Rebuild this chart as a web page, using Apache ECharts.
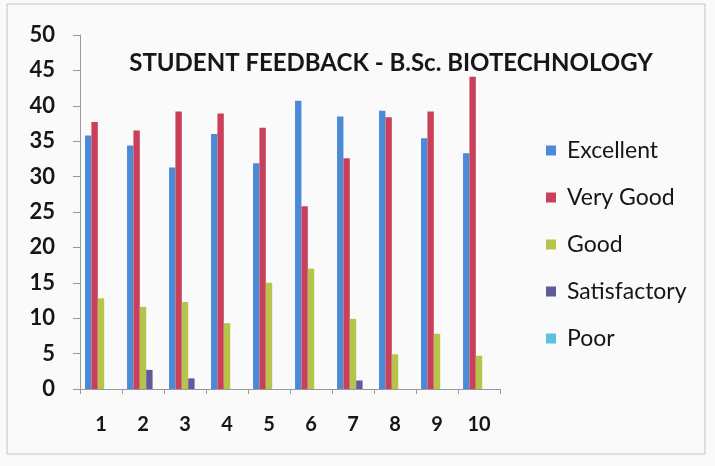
<!DOCTYPE html>
<html>
<head>
<meta charset="utf-8">
<script src="https://cdn.jsdelivr.net/npm/echarts@6/dist/echarts.min.js"></script>
<style>
  html, body { margin: 0; padding: 0; background: #fafafa; }
  #chart { width: 715px; height: 466px; }
</style>
</head>
<body>
<div id="chart"></div>
<script>
// Feedback counts per batch, one array per rating
const categories = ['1', '2', '3', '4', '5', '6', '7', '8', '9', '10'];
const excellent = [35.8, 34.4, 31.3, 36.0, 31.9, 40.7, 38.5, 39.3, 35.4, 33.3];
const veryGood = [37.7, 36.5, 39.2, 38.9, 36.9, 25.8, 32.6, 38.4, 39.2, 44.1];
const good = [12.8, 11.6, 12.3, 9.3, 15.0, 17.0, 9.9, 4.9, 7.8, 4.7];
const satisfactory = [0, 2.7, 1.5, 0, 0, 0, 1.2, 0, 0, 0];
const poor = [0, 0, 0, 0, 0, 0, 0, 0, 0, 0];
const yTicks = { min: 0, max: 50, interval: 5 };

const seriesDefs = [
  { name: 'Excellent', data: excellent, color: '#4a8ad6' },
  { name: 'Very Good', data: veryGood, color: '#c8405a' },
  { name: 'Good', data: good, color: '#b6c44c' },
  { name: 'Satisfactory', data: satisfactory, color: '#5e5a9c' },
  { name: 'Poor', data: poor, color: '#5ec0e0' }
];

const font = 'Lato, "Open Sans", sans-serif';
const ink = '#161616';
const chart = echarts.init(document.getElementById('chart'));
chart.setOption({
  backgroundColor: '#fafafa',
  animation: false,
  title: {
    text: 'STUDENT FEEDBACK - B.Sc. BIOTECHNOLOGY',
    left: 386,
    top: 46,
    textAlign: 'center',
    textStyle: { fontFamily: font, fontSize: 24, fontWeight: 'bold', color: ink }
  },
  legend: {
    orient: 'vertical',
    left: 541,
    top: 134,
    itemWidth: 10,
    itemHeight: 10,
    itemGap: 24,
    icon: 'rect',
    textStyle: { fontFamily: font, fontSize: 23, color: ink, padding: [0, 0, 0, 6] },
    data: seriesDefs.map(s => s.name)
  },
  grid: { left: 80, right: 215, top: 35, bottom: 77, containLabel: false },
  xAxis: {
    type: 'category',
    data: categories,
    axisLine: { lineStyle: { color: '#999', width: 1 } },
    axisTick: { show: true, alignWithLabel: false, length: 5, lineStyle: { color: '#999' } },
    axisLabel: { fontFamily: font, fontSize: 20, color: ink, margin: 26, fontWeight: 'bold' }
  },
  yAxis: {
    type: 'value',
    min: yTicks.min,
    max: yTicks.max,
    interval: yTicks.interval,
    splitLine: { show: false },
    axisLine: { show: true, lineStyle: { color: '#999', width: 1 } },
    axisTick: { show: true, length: 7, lineStyle: { color: '#999' } },
    axisLabel: { fontFamily: font, fontSize: 22, color: ink, margin: 25, fontWeight: 'bold' }
  },
  series: seriesDefs.map(s => ({
    name: s.name,
    type: 'bar',
    data: s.data,
    barGap: '0%',
    barCategoryGap: '24%',
    itemStyle: { color: s.color }
  })),
  graphic: [
    {
      type: 'rect',
      shape: { x: 7, y: 4, width: 698, height: 450 },
      style: { fill: 'none', stroke: '#c4c4c4', lineWidth: 1 }
    }
  ]
});
</script>
</body>
</html>
